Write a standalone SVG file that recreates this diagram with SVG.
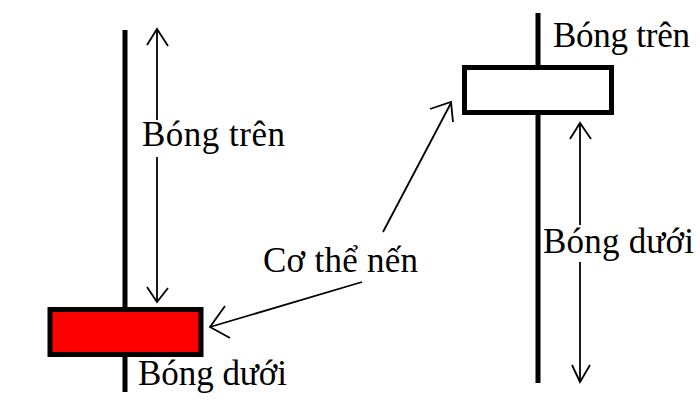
<svg xmlns="http://www.w3.org/2000/svg" width="700" height="400" viewBox="0 0 700 400">
<style>
.wick{stroke:#000;stroke-width:5;fill:none}
.body{stroke:#000;stroke-width:5}
.conn{stroke:#000;stroke-width:1.8;fill:none}
.lbl{font-family:"Liberation Serif","Times New Roman",serif;font-size:35px;fill:#000}
</style>
<rect width="700" height="400" fill="#fff"/>
<g id="candle-left">
<line class="wick" x1="125" y1="30" x2="125" y2="310"/>
<line class="wick" x1="125" y1="354" x2="125" y2="392"/>
<rect class="body" x="50" y="309.5" width="151" height="45" fill="#ff0000"/>
</g>
<g id="candle-right">
<line class="wick" x1="538" y1="13" x2="538" y2="68"/>
<line class="wick" x1="538" y1="112" x2="538" y2="383"/>
<rect class="body" x="464.5" y="67.5" width="147" height="45" fill="#fff"/>
</g>
<g id="connectors">
<line class="conn" x1="157" y1="29" x2="157" y2="120"/>
<line class="conn" x1="157" y1="157" x2="157" y2="302"/>
<polyline class="conn" points="147,45 157,29 168,46"/>
<polyline class="conn" points="147,287 157,302 168,288"/>
<line class="conn" x1="580" y1="123" x2="580" y2="225"/>
<line class="conn" x1="580" y1="262" x2="580" y2="382"/>
<polyline class="conn" points="570,139 580,123 591,139"/>
<polyline class="conn" points="572,365 580,382 590,365"/>
<line class="conn" x1="362" y1="282" x2="210" y2="327"/>
<polyline class="conn" points="225,306 210,327 230,338"/>
<line class="conn" x1="383" y1="232" x2="451" y2="103"/>
<polyline class="conn" points="430,109 451,102 453,122"/>
</g>
<g id="labels">
<text class="lbl" x="142" y="146" textLength="143">Bóng trên</text>
<text class="lbl" x="138" y="385" textLength="149">Bóng dưới</text>
<text class="lbl" x="553" y="47" textLength="137">Bóng trên</text>
<text class="lbl" x="543" y="253" textLength="151">Bóng dưới</text>
<text class="lbl" x="263" y="272" textLength="155">Cơ thể nến</text>
</g>
</svg>
